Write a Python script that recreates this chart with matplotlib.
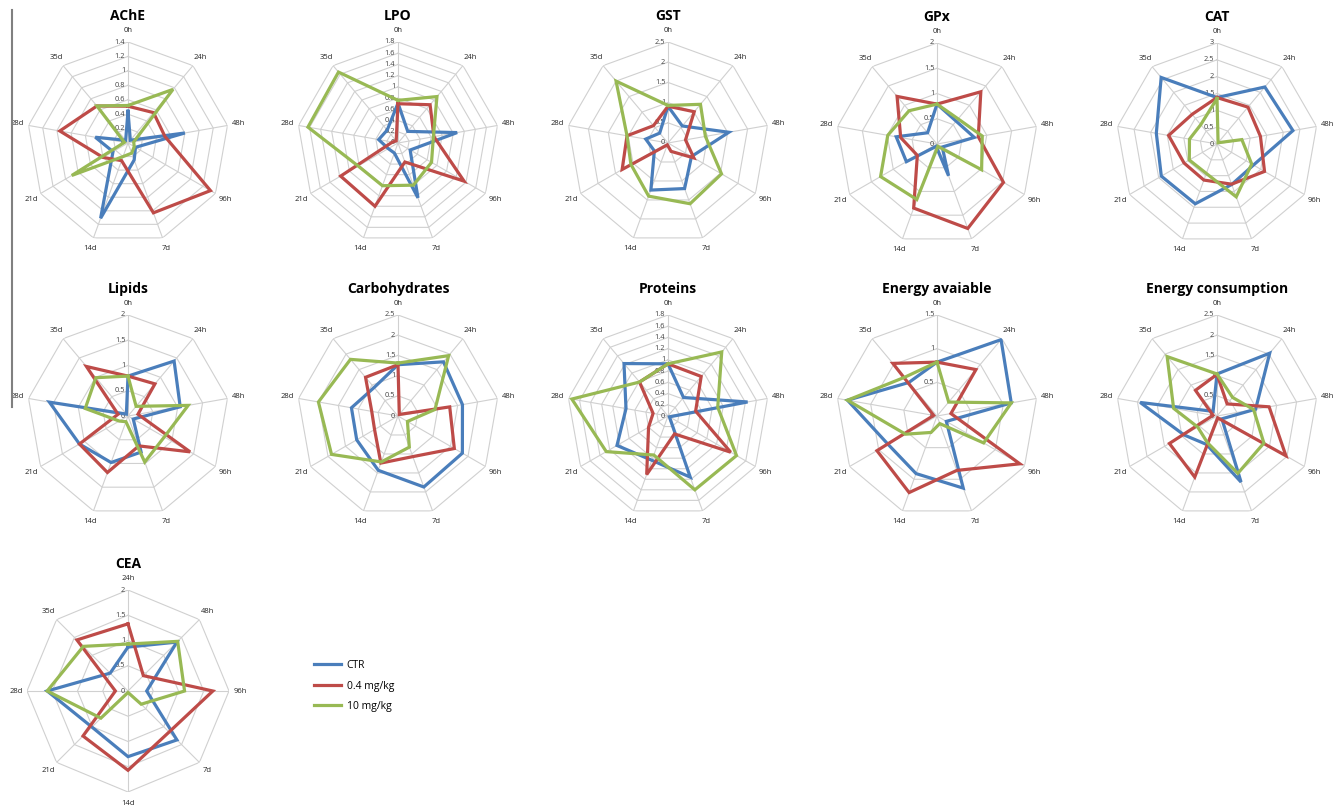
import matplotlib
matplotlib.use("Agg")
import matplotlib.pyplot as plt
import numpy as np

plt.rcParams['font.family'] = ['Open Sans', 'DejaVu Sans']

# Axes (time points), clockwise from the top
times9 = ["0h", "24h", "48h", "96h", "7d", "14d", "21d", "28d", "35d"]
times8 = ["24h", "48h", "96h", "7d", "14d", "21d", "28d", "35d"]
series_names = ["CTR", "0.4 mg/kg", "10 mg/kg"]
colors = ["#4a7ebb", "#be4b48", "#98b954"]

# Data
ache_ctr = [0.44, 0.05, 0.80, 0.12, 0.25, 1.11, 0.24, 0.46, 0.05]
ache_low = [0.51, 0.55, 0.52, 1.32, 1.03, 0.26, 0.40, 0.96, 0.67]
ache_high = [0.52, 0.97, 0.08, 0.10, 0.15, 0.20, 0.90, 0.05, 0.67]

lpo_ctr = [0.71, 0.27, 1.07, 0.25, 1.04, 0.19, 0.20, 0.35, 0.30]
lpo_low = [0.70, 0.89, 0.65, 1.36, 0.36, 1.20, 1.18, 0.10, 0.05]
lpo_high = [0.76, 1.08, 0.64, 0.69, 0.80, 0.81, 0.82, 1.63, 1.65]

gst_ctr = [0.91, 0.55, 1.53, 0.67, 1.20, 1.24, 0.39, 0.56, 0.32]
gst_low = [0.91, 1.01, 0.44, 0.74, 0.22, 0.05, 1.31, 1.03, 0.56]
gst_high = [0.93, 1.25, 0.94, 1.53, 1.60, 1.40, 1.06, 1.03, 2.00]

gpx_ctr = [0.79, 0.59, 0.75, 0.12, 0.67, 0.05, 0.70, 0.82, 0.29]
gpx_low = [0.79, 1.35, 0.83, 1.52, 1.78, 1.35, 0.45, 0.73, 1.23]
gpx_high = [0.79, 0.65, 0.91, 1.02, 0.05, 1.17, 1.29, 0.99, 0.86]

cat_ctr = [1.38, 2.21, 2.29, 1.25, 1.28, 1.89, 1.91, 1.83, 2.58]
cat_low = [1.38, 1.43, 1.31, 1.63, 1.27, 1.14, 1.13, 1.46, 1.15]
cat_high = [1.35, 0.05, 0.75, 1.19, 1.67, 0.93, 0.95, 0.83, 0.75]

lip_ctr = [0.79, 1.42, 1.05, 0.12, 0.76, 0.98, 1.11, 1.58, 0.05]
lip_low = [0.79, 0.83, 0.20, 1.42, 0.63, 1.19, 1.11, 0.20, 1.28]
lip_high = [0.79, 0.25, 1.21, 0.83, 0.97, 0.12, 0.20, 0.86, 0.99]

carb_ctr = [1.27, 1.75, 1.62, 1.84, 1.87, 1.43, 1.18, 1.17, 0.92]
carb_low = [1.27, 0.05, 1.30, 1.61, 1.07, 1.24, 0.67, 0.66, 1.25]
carb_high = [1.31, 1.95, 0.93, 0.27, 0.82, 1.21, 1.90, 2.00, 1.83]

prot_ctr = [0.93, 0.43, 1.44, 0.03, 1.16, 0.84, 1.05, 0.76, 1.22]
prot_low = [0.93, 0.92, 0.50, 1.29, 0.34, 1.11, 0.40, 0.27, 0.79]
prot_high = [0.93, 1.49, 0.90, 1.41, 1.40, 0.74, 1.27, 1.74, 0.79]

ea_ctr = [0.80, 1.48, 1.12, 0.16, 1.14, 0.91, 0.84, 1.35, 0.65]
ea_low = [0.80, 0.90, 0.21, 1.42, 0.86, 1.21, 1.03, 0.05, 1.02]
ea_high = [0.80, 0.27, 1.12, 0.80, 0.12, 0.26, 0.54, 1.35, 0.75]

ec_ctr = [1.04, 2.03, 0.97, 0.14, 1.74, 0.75, 0.94, 1.93, 0.15]
ec_low = [1.03, 0.39, 1.31, 1.97, 0.05, 1.61, 1.36, 0.10, 0.83]
ec_high = [1.04, 0.60, 0.92, 1.34, 1.51, 0.70, 0.55, 1.09, 1.92]

cea_ctr = [0.87, 1.37, 0.37, 1.37, 1.30, 1.01, 1.60, 0.50]
cea_low = [1.33, 0.43, 1.68, 1.15, 1.57, 1.26, 0.25, 1.43]
cea_high = [0.93, 1.39, 1.12, 0.37, 0.03, 0.76, 1.60, 1.25]

# title, axis labels, series, max, step, centre (px)
panels = [
    ("AChE", times9, (ache_ctr, ache_low, ache_high), 1.4, 0.2, (128, 143)),
    ("LPO", times9, (lpo_ctr, lpo_low, lpo_high), 1.8, 0.2, (398, 143)),
    ("GST", times9, (gst_ctr, gst_low, gst_high), 2.5, 0.5, (668, 143)),
    ("GPx", times9, (gpx_ctr, gpx_low, gpx_high), 2.0, 0.5, (937, 144)),
    ("CAT", times9, (cat_ctr, cat_low, cat_high), 3.0, 0.5, (1217, 144)),
    ("Lipids", times9, (lip_ctr, lip_low, lip_high), 2.0, 0.5, (128, 416)),
    ("Carbohydrates", times9, (carb_ctr, carb_low, carb_high), 2.5, 0.5, (398, 416)),
    ("Proteins", times9, (prot_ctr, prot_low, prot_high), 1.8, 0.2, (668, 416)),
    ("Energy avaiable", times9, (ea_ctr, ea_low, ea_high), 1.5, 0.5, (937, 416)),
    ("Energy consumption", times9, (ec_ctr, ec_low, ec_high), 2.5, 0.5, (1217, 416)),
    ("CEA", times8, (cea_ctr, cea_low, cea_high), 2.0, 0.5, (128, 691)),
]

W, H = 1339, 805
R = 101  # radius in px
fig = plt.figure(figsize=(W / 100, H / 100), dpi=100)

handles = []
for title, labels, series, rmax, step, (cx, cy) in panels:
    ax = fig.add_axes([(cx - R) / W, (H - cy - R) / H, 2 * R / W, 2 * R / H],
                      projection="polar")
    ax.set_theta_zero_location("N")
    ax.set_theta_direction(-1)
    ax.set_ylim(0, rmax)
    ax.set_xticks([])
    ax.set_yticks([])
    ax.grid(False)
    ax.spines["polar"].set_visible(False)
    ax.patch.set_alpha(0)

    n = len(labels)
    ang = np.linspace(0, 2 * np.pi, n, endpoint=False)
    ang_c = np.append(ang, ang[0])

    # polygon grid
    levels = np.arange(step, rmax + step / 2, step)
    for v in levels:
        ax.plot(ang_c, [v] * (n + 1), color="#d0d0d0", lw=0.8, zorder=1)
    for a in ang:
        ax.plot([a, a], [0, rmax], color="#d0d0d0", lw=0.8, zorder=1)

    # tick labels on first spoke
    for v in np.append(0, levels):
        txt = f"{v:g}"
        ax.annotate(txt, (0, v), xytext=(-2, 0), textcoords="offset points",
                    ha="right", va="center", fontsize=5.3, color="#404040",
                    zorder=2)

    # spoke labels
    for a, lab in zip(ang, labels):
        ax.text(a, rmax * 1.11, lab, ha="center", va="center", fontsize=5.5,
                color="#222222")

    ax.text(0, rmax * 1.26, title, ha="center", va="center", fontsize=10,
            fontweight="bold", color="black")

    hs = []
    for vals, c, name in zip(series, colors, series_names):
        v = list(vals) + [vals[0]]
        h, = ax.plot(ang_c, v, color=c, lw=2.3, zorder=3, label=name,
                     solid_joinstyle="miter")
        hs.append(h)
    handles = hs

fig.legend(handles, series_names, loc="center left",
           bbox_to_anchor=(305 / W, (H - 686) / H), frameon=False,
           fontsize=7.5, handlelength=2.6, labelspacing=0.9, handletextpad=0.5)

# left border line
fig.add_artist(plt.Line2D([12 / W, 12 / W], [1 - 10 / H, 1 - 407 / H],
                          color="#808080", lw=1.5))

fig.savefig("out.png", dpi=100)
